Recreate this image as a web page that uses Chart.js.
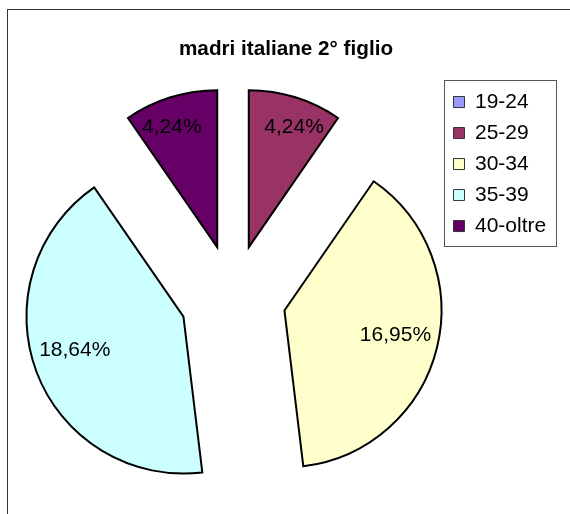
<!DOCTYPE html>
<html>
<head>
<meta charset="utf-8">
<script src="https://cdn.jsdelivr.net/npm/chart.js@4"></script>
<style>
html, body { margin: 0; padding: 0; background: #fff; }
#wrap { width: 570px; height: 514px; }
</style>
</head>
<body>
<div id="wrap"><canvas id="myChart"></canvas></div>
<script>
const classi = ['19-24', '25-29', '30-34', '35-39', '40-oltre'];
const percentuali = [0, 4.24, 16.95, 18.64, 4.24];
const colori = ['#9999ff', '#993366', '#ffffcc', '#ccffff', '#660066'];
const titolo = 'madri italiane 2° figlio';

const font = '"Liberation Sans", Arial, sans-serif';
const stacco = 53; // spicchi staccati dal centro

// cornice esterna + riquadro legenda
const cornice = {
    id: 'cornice',
    beforeDraw(chart) {
        const ctx = chart.ctx;
        ctx.save();
        ctx.fillStyle = '#fff';
        ctx.fillRect(0, 0, chart.width, chart.height);
        ctx.strokeStyle = '#333';
        ctx.lineWidth = 1;
        ctx.strokeRect(7.5, 9.5, chart.width + 20, chart.height + 20);
        ctx.restore();
    },
    afterDraw(chart) {
        const lg = chart.legend;
        const hb = lg.legendHitBoxes;
        const last = hb[hb.length - 1];
        const ctx = chart.ctx;
        ctx.save();
        ctx.strokeStyle = '#555';
        ctx.lineWidth = 1;
        const x0 = Math.round(hb[0].left - 9.5) + 0.5;
        const y0 = Math.round(lg.top) - 1.5;
        const x1 = x0 + 112;
        const y1 = Math.round(last.top + last.height + 9) + 0.5;
        ctx.strokeRect(x0, y0, x1 - x0, y1 - y0);
        ctx.restore();
    }
};

// sposta gli spicchi e scrive le percentuali
const esploso = {
    id: 'esploso',
    beforeDatasetsDraw(chart) {
        const a = chart.chartArea;
        const cx = (a.left + a.right) / 2, cy = (a.top + a.bottom) / 2;
        chart.getDatasetMeta(0).data.forEach(arc => {
            const mid = (arc.startAngle + arc.endAngle) / 2;
            arc.x = cx + Math.cos(mid) * stacco;
            arc.y = cy + Math.sin(mid) * stacco;
        });
    },
    afterDatasetsDraw(chart) {
        const ctx = chart.ctx;
        ctx.save();
        ctx.font = '21px ' + font;
        ctx.fillStyle = '#000';
        ctx.textAlign = 'center';
        ctx.textBaseline = 'middle';
        chart.getDatasetMeta(0).data.forEach((arc, i) => {
            if (!percentuali[i]) return;
            const mid = (arc.startAngle + arc.endAngle) / 2;
            const ampio = arc.endAngle - arc.startAngle > Math.PI / 2;
            const r = arc.outerRadius * (ampio ? 0.725 : 0.815);
            let giro;
            if (ampio) giro = Math.cos(mid) < 0 ? 0.06 : -0.02;
            else giro = Math.cos(mid) > 0 ? 0.06 : -0.06;
            const ang = mid + giro;
            const txt = percentuali[i].toFixed(2).replace('.', ',') + '%';
            ctx.fillText(txt, arc.x + Math.cos(ang) * r, arc.y + Math.sin(ang) * r);
        });
        ctx.restore();
    }
};

const ctx = document.getElementById('myChart').getContext('2d');
const myChart = new Chart(ctx, {
    type: 'pie',
    data: {
        labels: classi,
        datasets: [{
            data: percentuali,
            backgroundColor: colori,
            borderColor: '#000',
            borderWidth: 2,
            borderJoinStyle: 'miter',
            radius: 157,
            clip: false
        }]
    },
    options: {
        responsive: true,
        maintainAspectRatio: false,
        animation: false,
        events: [],
        layout: { padding: { left: 22.5, right: 20.5, top: 0, bottom: -3.1 } },
        plugins: {
            title: {
                display: true,
                text: titolo,
                color: '#000',
                font: { family: font, size: 20.7, weight: 'bold' },
                padding: { top: 36.4, bottom: 20.3 }
            },
            legend: {
                position: 'right',
                align: 'start',
                fullSize: false,
                maxWidth: 106,
                labels: {
                    color: '#000',
                    font: { family: font, size: 21 },
                    boxWidth: 11,
                    boxHeight: 11,
                    padding: 10,
                    generateLabels(chart) {
                        return classi.map((c, i) => ({
                            text: c,
                            fillStyle: colori[i],
                            strokeStyle: '#333',
                            lineWidth: 1,
                            fontColor: '#000',
                            hidden: false,
                            index: i
                        }));
                    }
                }
            },
            tooltip: { enabled: false }
        }
    },
    plugins: [cornice, esploso]
});
</script>
</body>
</html>
